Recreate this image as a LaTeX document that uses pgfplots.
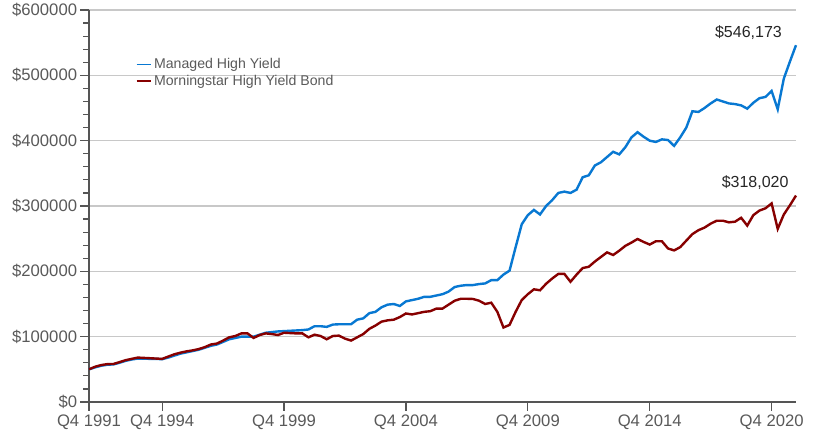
\documentclass[border=0pt]{standalone}
\usepackage{pgfplots}
\usepackage{pgfplotstable}
\pgfplotsset{compat=1.18}
\usepackage{fontspec}
\setmainfont{Liberation Sans}
\definecolor{mblue}{RGB}{8,120,210}
\definecolor{mred}{RGB}{135,0,0}
\definecolor{txtgray}{RGB}{89,89,89}
\definecolor{gridgray}{RGB}{200,200,200}
\definecolor{axgray}{RGB}{85,85,85}

\pgfplotstableread{
i blue red
0 50000 50000
1 53000 54000
2 55500 56500
3 57000 58000
4 57500 58200
5 60000 61000
6 63000 64000
7 65000 66000
8 66500 68000
9 66500 67500
10 66000 67000
11 66000 66500
12 65500 66000
13 68000 69500
14 71000 73000
15 74000 75500
16 76000 77500
17 78000 79000
18 80000 81000
19 83000 84000
20 86000 88000
21 88000 89500
22 92000 94000
23 96000 99000
24 98000 101000
25 100000 105000
26 100000 105000
27 100000 98000
28 103000 102500
29 106000 105000
30 107000 104000
31 108000 102500
32 108500 106000
33 109000 105500
34 109500 105000
35 110000 105000
36 111000 99000
37 116000 103000
38 116000 101000
39 115000 96000
40 118500 101000
41 119000 101600
42 119000 97000
43 119000 94000
44 126000 99000
45 128000 104000
46 136000 112000
47 138000 117000
48 145000 123000
49 149000 125000
50 150000 126000
51 147000 130000
52 154000 135500
53 156000 134000
54 158000 136000
55 161000 138000
56 161000 139000
57 163000 143000
58 165000 143000
59 169000 149000
60 176000 155000
61 178000 158000
62 179000 158000
63 179000 157700
64 180500 155000
65 181500 150000
66 186500 152000
67 186500 138000
68 195000 114000
69 201000 118000
70 237000 138000
71 272000 156000
72 286000 165000
73 294000 172500
74 287000 171000
75 300000 181000
76 309000 189000
77 320000 196000
78 322000 196000
79 320000 184000
80 325000 195000
81 344000 205000
82 347000 207000
83 362000 215000
84 367000 222000
85 375000 229000
86 383000 225000
87 379000 231600
88 390000 239000
89 405000 244000
90 413000 249500
91 406000 245000
92 400000 241000
93 398000 246000
94 402000 246000
95 401000 235000
96 392000 232000
97 405000 237000
98 420000 247000
99 445000 257000
100 444000 263000
101 450000 267000
102 457000 273000
103 463000 277500
104 460000 277500
105 457000 275000
106 456000 276000
107 454000 282000
108 449000 270000
109 458000 286000
110 465000 293000
111 467000 296500
112 476000 304000
113 448000 265000
114 495000 287000
115 521000 301000
116 546173 316000
}\datatable

\begin{document}
\begin{tikzpicture}
\useasboundingbox (0,0) rectangle (611.25pt,324pt);
\begin{axis}[
  at={(66.75pt,22.5pt)}, anchor=south west,
  scale only axis, width=530.25pt, height=294pt,
  xmin=0, xmax=116, ymin=0, ymax=600000,
  axis x line*=bottom, axis y line*=left,
  axis line style={-, axgray, line width=0.9pt},
  ytick={0,100000,200000,300000,400000,500000,600000},
  yticklabels={\$0,\$100000,\$200000,\$300000,\$400000,\$500000,\$600000},
  scaled y ticks=false,
  minor y tick num=4,
  ymajorgrids,
  grid style={gridgray, line width=1pt},
  xtick={0,12,32,52,72,92,112},
  xticklabels={Q4 1991,Q4 1994,Q4 1999,Q4 2004,Q4 2009,Q4 2014,Q4 2020},
  tick align=outside,
  major tick length=6.75pt,
  minor tick length=4.5pt,
  tick style={axgray, line width=0.9pt},
  ticklabel style={font=\fontsize{12.5}{15}\selectfont, text=txtgray},
  yticklabel style={inner sep=2pt},
  xticklabel style={inner sep=2.5pt},
  legend style={at={(0.066,0.883)}, anchor=north west, draw=none, fill=none,
    font=\fontsize{10.6}{12.5}\selectfont, text=txtgray, row sep=0.5pt,
    inner sep=0pt, nodes={inner sep=1.5pt}},
  legend cell align=left,
  legend image code/.code={\draw[#1, line width=1.1pt] (0pt,0pt) -- (11pt,0pt);},
  clip=false,
]
\addplot[mblue, line width=1.8pt] table[x=i, y=blue] {\datatable};
\addlegendentry{Managed High Yield}
\addplot[mred, line width=1.8pt] table[x=i, y=red] {\datatable};
\addlegendentry{Morningstar High Yield Bond}
\node[font=\fontsize{12}{14}\selectfont, text=black!85] at (axis cs:108.2,564800) {\$546,173};
\node[font=\fontsize{12}{14}\selectfont, text=black!85] at (axis cs:109.3,335200) {\$318,020};
\end{axis}
\end{tikzpicture}
\end{document}
